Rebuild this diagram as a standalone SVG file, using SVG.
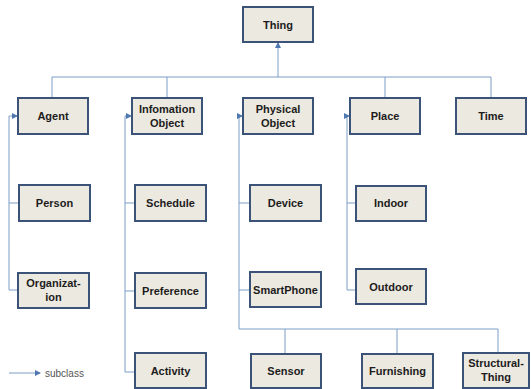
<svg xmlns="http://www.w3.org/2000/svg" width="531" height="389" viewBox="0 0 531 389">
<defs>
<marker id="arr" markerWidth="6" markerHeight="6" refX="5" refY="3" orient="auto" markerUnits="userSpaceOnUse">
<path d="M0,0 L6,3 L0,6 z" fill="#4f78b0"/>
</marker>
<style>
.box{fill:#ece9e0;stroke:#3b5378;stroke-width:2}
.lbl{font-family:"Liberation Sans",Arial,sans-serif;font-weight:bold;font-size:11px;fill:#1c1c1c;text-anchor:middle}
.ln{fill:none;stroke:#7d9ec8;stroke-width:1}
.ar{fill:none;stroke:#7d9ec8;stroke-width:1;marker-end:url(#arr)}
</style>
</defs>
<rect width="531" height="389" fill="#ffffff"/>
<g id="connectors">
<path class="ar" d="M278,77 V43"/>
<path class="ln" d="M52,98 V77 H491 V98 M167,77 V98 M385,77 V98"/>
<path class="ln" d="M9,116 V290 H18 M9,203 H19"/>
<path class="ar" d="M9,116 H17"/>
<path class="ln" d="M125,116 V372 H135 M125,203 H135 M125,291 H135"/>
<path class="ar" d="M125,116 H131"/>
<path class="ln" d="M239,116 V329 H498 V354 M239,203 H250 M239,290 H250 M285,329 V354 M397,329 V354"/>
<path class="ar" d="M239,116 H242"/>
<path class="ln" d="M347,116 V290 H356 M347,203 H356"/>
<path class="ar" d="M347,116 H349"/>
<path class="ar" d="M9,373 H40"/>
</g>
<g id="thing"><rect class="box" x="243" y="7" width="70" height="35"/><text class="lbl" x="278" y="28.5">Thing</text></g>
<g id="agent"><rect class="box" x="18" y="98" width="70" height="36"/><text class="lbl" x="53" y="120">Agent</text></g>
<g id="infomation-object"><rect class="box" x="132" y="98" width="70" height="36"/><text class="lbl" x="167" y="113">Infomation</text><text class="lbl" x="167" y="126.5">Object</text></g>
<g id="physical-object"><rect class="box" x="243" y="98" width="70" height="36"/><text class="lbl" x="278" y="113">Physical</text><text class="lbl" x="278" y="126.5">Object</text></g>
<g id="place"><rect class="box" x="350" y="98" width="70" height="36"/><text class="lbl" x="385" y="120">Place</text></g>
<g id="time"><rect class="box" x="456" y="98" width="70" height="36"/><text class="lbl" x="491" y="120">Time</text></g>
<g id="person"><rect class="box" x="19" y="185" width="71" height="36"/><text class="lbl" x="54.5" y="207">Person</text></g>
<g id="schedule"><rect class="box" x="135" y="185" width="71" height="36"/><text class="lbl" x="170.5" y="207">Schedule</text></g>
<g id="device"><rect class="box" x="250" y="185" width="71" height="36"/><text class="lbl" x="285.5" y="207">Device</text></g>
<g id="indoor"><rect class="box" x="356" y="186" width="70" height="35"/><text class="lbl" x="391" y="207">Indoor</text></g>
<g id="organization"><rect class="box" x="18" y="273" width="71" height="35"/><text class="lbl" x="53.5" y="287">Organizat-</text><text class="lbl" x="53.5" y="300.5">ion</text></g>
<g id="preference"><rect class="box" x="135" y="273" width="71" height="35"/><text class="lbl" x="170.5" y="294.5">Preference</text></g>
<g id="smartphone"><rect class="box" x="250" y="272" width="71" height="35"/><text class="lbl" x="285.5" y="293.5">SmartPhone</text></g>
<g id="outdoor"><rect class="box" x="356" y="269" width="70" height="35"/><text class="lbl" x="391" y="290.5">Outdoor</text></g>
<g id="activity"><rect class="box" x="135" y="353" width="71" height="35"/><text class="lbl" x="170.5" y="375">Activity</text></g>
<g id="sensor"><rect class="box" x="251" y="354" width="70" height="34"/><text class="lbl" x="286" y="375">Sensor</text></g>
<g id="furnishing"><rect class="box" x="362" y="354" width="71" height="34"/><text class="lbl" x="397.5" y="375">Furnishing</text></g>
<g id="structural-thing"><rect class="box" x="463" y="353" width="66" height="35"/><text class="lbl" x="496" y="367">Structural-</text><text class="lbl" x="496" y="380.5">Thing</text></g>
<g id="legend"><text x="45" y="377" style="font-family:'Liberation Sans',Arial,sans-serif;font-size:10px;fill:#555">subclass</text></g>
</svg>
